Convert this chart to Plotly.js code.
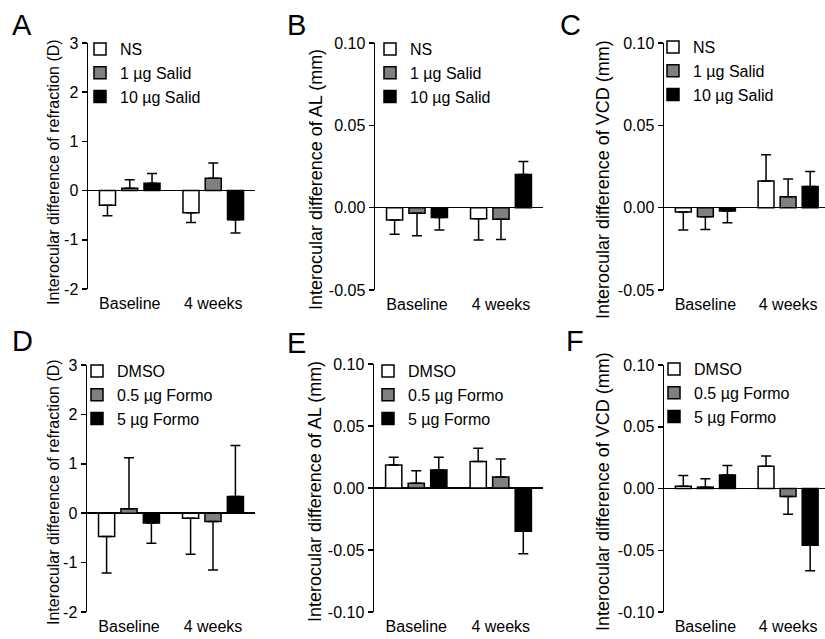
<!DOCTYPE html>
<html>
<head>
<meta charset="utf-8">
<script src="https://cdn.plot.ly/plotly-3.0.1.min.js"></script>
<style>html,body{margin:0;padding:0;background:#fff;}#chart{width:825px;height:639px;}</style>
</head>
<body>
<div id="chart"></div>
<script>
// ---------- DATA ----------
const groups = ['Baseline', '4 weeks'];

// A: refraction (D), Salidroside
const nsRefr = [-0.30, -0.45];      const nsRefrErr = [0.21, 0.20];
const salid1Refr = [0.05, 0.25];    const salid1RefrErr = [0.17, 0.31];
const salid10Refr = [0.15, -0.59];  const salid10RefrErr = [0.20, 0.27];
// B: AL (mm), Salidroside
const nsAL = [-0.0075, -0.0067];      const nsALErr = [0.0087, 0.0130];
const salid1AL = [-0.0034, -0.0071];  const salid1ALErr = [0.0137, 0.0123];
const salid10AL = [-0.0059, 0.0202];  const salid10ALErr = [0.0077, 0.0078];
// C: VCD (mm), Salidroside
const nsVCD = [-0.0026, 0.0162];      const nsVCDErr = [0.0110, 0.0160];
const salid1VCD = [-0.0055, 0.0067];  const salid1VCDErr = [0.0077, 0.0107];
const salid10VCD = [-0.0020, 0.0128]; const salid10VCDErr = [0.0071, 0.0091];
// D: refraction (D), Formoterol
const dmsoRefr = [-0.47, -0.10];    const dmsoRefrErr = [0.74, 0.73];
const formo05Refr = [0.09, -0.17];  const formo05RefrErr = [1.03, 0.98];
const formo5Refr = [-0.20, 0.34];   const formo5RefrErr = [0.41, 1.03];
// E: AL (mm), Formoterol
const dmsoAL = [0.0186, 0.0213];    const dmsoALErr = [0.0062, 0.0108];
const formo05AL = [0.0038, 0.0089]; const formo05ALErr = [0.0102, 0.0145];
const formo5AL = [0.0146, -0.0348]; const formo5ALErr = [0.0102, 0.0183];
// F: VCD (mm), Formoterol
const dmsoVCD = [0.0019, 0.0180];    const dmsoVCDErr = [0.0086, 0.0084];
const formo05VCD = [0.0011, -0.0065]; const formo05VCDErr = [0.0067, 0.0143];
const formo5VCD = [0.0110, -0.0460];  const formo5VCDErr = [0.0076, 0.0205];

const salidNames = ['NS', '1 µg Salid', '10 µg Salid'];
const formoNames = ['DMSO', '0.5 µg Formo', '5 µg Formo'];
const panelLetters = ['A', 'B', 'C', 'D', 'E', 'F'];
const yTitles = ['Interocular difference of refraction (D)', 'Interocular difference of AL (mm)', 'Interocular difference of VCD (mm)',
                 'Interocular difference of refraction (D)', 'Interocular difference of AL (mm)', 'Interocular difference of VCD (mm)'];
const refrTicks = [3, 2, 1, 0, -1, -2];
const refrTickText = ['3', '2', '1', '0', '-1', '-2'];
const mmTicksTop = [0.10, 0.05, 0.00, -0.05];
const mmTickTextTop = ['0.10', '0.05', '0.00', '-0.05'];
const mmTicksBot = [0.10, 0.05, 0.00, -0.05, -0.10];
const mmTickTextBot = ['0.10', '0.05', '0.00', '-0.05', '-0.10'];

// ---------- STYLE / LAYOUT ----------
const W = 825, H = 639;
const px = v => v / W;
const py = v => 1 - v / H;
const FONT = 'Liberation Sans, Arial, Helvetica, sans-serif';
const fills = ['#ffffff', '#808080', '#000000'];

const panels = [
  {vals: [nsRefr, salid1Refr, salid10Refr], errs: [nsRefrErr, salid1RefrErr, salid10RefrErr], names: salidNames,
   xd: [88, 255], yd: [43, 289], yr: [-2, 3], tv: refrTicks, tt: refrTickText, xr: [-0.5, 1.5],
   leg: [80, 32], letter: [10, 7], title: [53, 172], tsize: 16},
  {vals: [nsAL, salid1AL, salid10AL], errs: [nsALErr, salid1ALErr, salid10ALErr], names: salidNames,
   xd: [375, 543], yd: [43, 290], yr: [-0.05, 0.10], tv: mmTicksTop, tt: mmTickTextTop, xr: [-0.5, 1.5],
   leg: [370, 32], letter: [285, 7], title: [316, 180], tsize: 18},
  {vals: [nsVCD, salid1VCD, salid10VCD], errs: [nsVCDErr, salid1VCDErr, salid10VCDErr], names: salidNames,
   xd: [664, 825], yd: [43, 290], yr: [-0.05, 0.10], tv: mmTicksTop, tt: mmTickTextTop, xr: [-0.5, 1.446],
   leg: [653, 30], letter: [558, 7], title: [603, 180], tsize: 18},
  {vals: [dmsoRefr, formo05Refr, formo5Refr], errs: [dmsoRefrErr, formo05RefrErr, formo5RefrErr], names: formoNames,
   xd: [87, 255], yd: [365, 612], yr: [-2, 3], tv: refrTicks, tt: refrTickText, xr: [-0.5, 1.5],
   leg: [77, 354], letter: [10, 323], title: [53, 492], tsize: 16},
  {vals: [dmsoAL, formo05AL, formo5AL], errs: [dmsoALErr, formo05ALErr, formo5ALErr], names: formoNames,
   xd: [374, 543], yd: [364, 612], yr: [-0.10, 0.10], tv: mmTicksBot, tt: mmTickTextBot, xr: [-0.5, 1.5],
   leg: [368, 354], letter: [285, 325], title: [315, 492], tsize: 18},
  {vals: [dmsoVCD, formo05VCD, formo5VCD], errs: [dmsoVCDErr, formo05VCDErr, formo5VCDErr], names: formoNames,
   xd: [664, 825], yd: [365, 612], yr: [-0.10, 0.10], tv: mmTicksBot, tt: mmTickTextBot, xr: [-0.5, 1.446],
   leg: [654, 352], letter: [564, 323], title: [603, 492], tsize: 18}
];

const data = [];
const layout = {
  width: W, height: H, autosize: false,
  margin: {l: 0, r: 0, t: 0, b: 0, pad: 0},
  paper_bgcolor: '#fff', plot_bgcolor: 'rgba(0,0,0,0)',
  barmode: 'group', bargap: 0.2, bargroupgap: 0.28,
  font: {family: FONT, color: '#000', size: 16},
  annotations: [], showlegend: true
};

panels.forEach((p, k) => {
  const n = k + 1;
  const xa = 'x' + (n === 1 ? '' : n), ya = 'y' + (n === 1 ? '' : n);
  const legName = 'legend' + (n === 1 ? '' : n);
  p.vals.forEach((v, i) => {
    const e = p.errs[i];
    data.push({
      type: 'bar', x: groups, y: v, name: p.names[i],
      xaxis: xa, yaxis: ya, legend: legName, showlegend: true,
      marker: {color: fills[i], line: {color: '#000', width: 1.5}},
      error_y: {type: 'data', symmetric: false,
        array: v.map((val, j) => val >= 0 ? e[j] : 0),
        arrayminus: v.map((val, j) => val < 0 ? e[j] : 0),
        color: '#000', thickness: 1.5, width: 5},
      hoverinfo: 'skip'
    });
  });
  layout['xaxis' + (n === 1 ? '' : n)] = {
    domain: [px(p.xd[0]), px(p.xd[1])], anchor: ya, type: 'category', range: p.xr,
    showline: false, ticks: '', showgrid: false, zeroline: false, ticklabelstandoff: 3,
    tickfont: {size: 16, family: FONT, color: '#000'}, fixedrange: true
  };
  layout['yaxis' + (n === 1 ? '' : n)] = {
    domain: [py(p.yd[1]), py(p.yd[0])], anchor: xa, range: p.yr,
    tickmode: 'array', tickvals: p.tv, ticktext: p.tt,
    showline: true, linecolor: '#000', linewidth: 1.5,
    ticks: 'outside', ticklen: 5, tickwidth: 1.5, tickcolor: '#000',
    showgrid: false, zeroline: true, zerolinecolor: '#000', zerolinewidth: 1.5,
    tickfont: {size: 16, family: FONT, color: '#000'}, fixedrange: true
  };
  layout[legName] = {
    x: px(p.leg[0]), y: py(p.leg[1]), xanchor: 'left', yanchor: 'top',
    bgcolor: 'rgba(0,0,0,0)', borderwidth: 0, tracegroupgap: 0,
    font: {size: 16, family: FONT, color: '#000'}, traceorder: 'normal'
  };
  layout.annotations.push({
    text: panelLetters[k], xref: 'paper', yref: 'paper', x: px(p.letter[0]), y: py(p.letter[1]),
    xanchor: 'left', yanchor: 'top', showarrow: false, font: {size: 29, family: FONT, color: '#000'}
  });
  layout.annotations.push({
    text: yTitles[k], xref: 'paper', yref: 'paper', x: px(p.title[0]), y: py(p.title[1]),
    xanchor: 'center', yanchor: 'middle', textangle: -90, showarrow: false,
    font: {size: p.tsize, family: FONT, color: '#000'}
  });
});

Plotly.newPlot('chart', data, layout, {displayModeBar: false, staticPlot: true});
</script>
</body>
</html>
